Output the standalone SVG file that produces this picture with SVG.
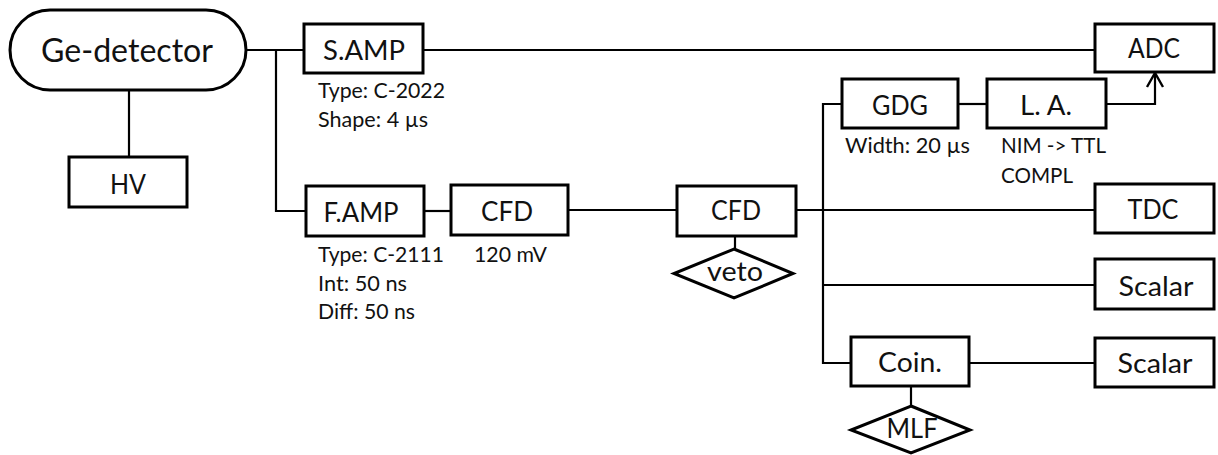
<svg xmlns="http://www.w3.org/2000/svg" width="1218" height="455" viewBox="0 0 1218 455">
<style>
.box{fill:#fff;stroke:#000;stroke-width:3}
.ln{fill:none;stroke:#000;stroke-width:2.2}
.t{font-family:Lato,"Open Sans","Liberation Sans",sans-serif;font-size:27px;fill:#111;text-anchor:middle}
.big{font-size:32px}
.lb{font-family:Lato,"Open Sans","Liberation Sans",sans-serif;font-size:21.5px;fill:#111}
</style>
<defs>
<marker id="arr" viewBox="0 0 20 20" refX="17" refY="10" markerWidth="20" markerHeight="20" markerUnits="userSpaceOnUse" orient="auto">
<path d="M3,2 L17,10 L3,18" fill="none" stroke="#000" stroke-width="2.4"/>
</marker>
</defs>
<rect width="1218" height="455" fill="#fff"/>
<g id="connectors">
<path class="ln" d="M246,50 H304"/>
<path class="ln" d="M423,50 H1095"/>
<path class="ln" d="M129,90 V157"/>
<path class="ln" d="M276,50 V211 H306"/>
<path class="ln" d="M424,211 H451"/>
<path class="ln" d="M568,210 H677"/>
<path class="ln" d="M796,210 H1095"/>
<path class="ln" d="M735,236 V249"/>
<path class="ln" d="M842,104 H823 V363 H851"/>
<path class="ln" d="M823,285 H1095"/>
<path class="ln" d="M969,363 H1095"/>
<path class="ln" d="M911,386 V406"/>
<path class="ln" d="M958,104 H987"/>
<path class="ln" d="M1106,104 H1155 V73" marker-end="url(#arr)"/>
</g>
<g id="ge-detector"><rect class="box" x="10" y="10" width="236" height="80" rx="40" ry="40" stroke-width="2.6"/><text class="t big" x="127" y="62" textLength="172" lengthAdjust="spacingAndGlyphs">Ge-detector</text></g>
<g id="hv"><rect class="box" x="69" y="157" width="118" height="50"/><text class="t" x="128" y="194" textLength="36" lengthAdjust="spacingAndGlyphs">HV</text></g>
<g id="samp"><rect class="box" x="304" y="24" width="119" height="49"/><text class="t" x="364" y="60" textLength="82" lengthAdjust="spacingAndGlyphs">S.AMP</text>
<text class="lb" x="318" y="98" textLength="127" lengthAdjust="spacingAndGlyphs">Type: C-2022</text>
<text class="lb" x="318" y="127" textLength="110" lengthAdjust="spacingAndGlyphs">Shape: 4 µs</text></g>
<g id="famp"><rect class="box" x="306" y="186" width="118" height="50"/><text class="t" x="361" y="222" textLength="75" lengthAdjust="spacingAndGlyphs">F.AMP</text>
<text class="lb" x="318" y="262" textLength="126" lengthAdjust="spacingAndGlyphs">Type: C-2111</text>
<text class="lb" x="318" y="291" textLength="89" lengthAdjust="spacingAndGlyphs">Int: 50 ns</text>
<text class="lb" x="318" y="319" textLength="97" lengthAdjust="spacingAndGlyphs">Diff: 50 ns</text></g>
<g id="cfd1"><rect class="box" x="451" y="185" width="117" height="50"/><text class="t" x="507" y="221" textLength="52" lengthAdjust="spacingAndGlyphs">CFD</text>
<text class="lb" x="474" y="262" textLength="73" lengthAdjust="spacingAndGlyphs">120 mV</text></g>
<g id="cfd2"><rect class="box" x="677" y="186" width="119" height="50"/><text class="t" x="736" y="220" textLength="50" lengthAdjust="spacingAndGlyphs">CFD</text></g>
<g id="veto"><polygon class="box" points="734,249 793,273.5 734,298 674,273.5"/><text class="t" x="735" y="281" textLength="56" lengthAdjust="spacingAndGlyphs">veto</text></g>
<g id="gdg"><rect class="box" x="842" y="79" width="116" height="49"/><text class="t" x="900" y="115" textLength="56" lengthAdjust="spacingAndGlyphs">GDG</text>
<text class="lb" x="845" y="153" textLength="125" lengthAdjust="spacingAndGlyphs">Width: 20 µs</text></g>
<g id="la"><rect class="box" x="987" y="79" width="119" height="49"/><text class="t" x="1046" y="115" textLength="52" lengthAdjust="spacingAndGlyphs">L. A.</text>
<text class="lb" x="1001" y="153" textLength="105" lengthAdjust="spacingAndGlyphs">NIM -&gt; TTL</text>
<text class="lb" x="1001" y="183" textLength="72" lengthAdjust="spacingAndGlyphs">COMPL</text></g>
<g id="adc"><rect class="box" x="1095" y="24" width="119" height="48"/><text class="t" x="1154" y="58" textLength="52" lengthAdjust="spacingAndGlyphs">ADC</text></g>
<g id="tdc"><rect class="box" x="1095" y="184" width="119" height="49"/><text class="t" x="1153" y="219" textLength="51" lengthAdjust="spacingAndGlyphs">TDC</text></g>
<g id="scalar1"><rect class="box" x="1095" y="259" width="119" height="50"/><text class="t" x="1156" y="296" textLength="75" lengthAdjust="spacingAndGlyphs">Scalar</text></g>
<g id="coin"><rect class="box" x="851" y="337" width="118" height="49"/><text class="t" x="910" y="372" textLength="64" lengthAdjust="spacingAndGlyphs">Coin.</text></g>
<g id="scalar2"><rect class="box" x="1095" y="338" width="119" height="49"/><text class="t" x="1155" y="373" textLength="75" lengthAdjust="spacingAndGlyphs">Scalar</text></g>
<g id="mlf"><polygon class="box" points="911,406 970,430 911,453 851,430"/><text class="t" x="912" y="438" textLength="51" lengthAdjust="spacingAndGlyphs">MLF</text></g>
</svg>
